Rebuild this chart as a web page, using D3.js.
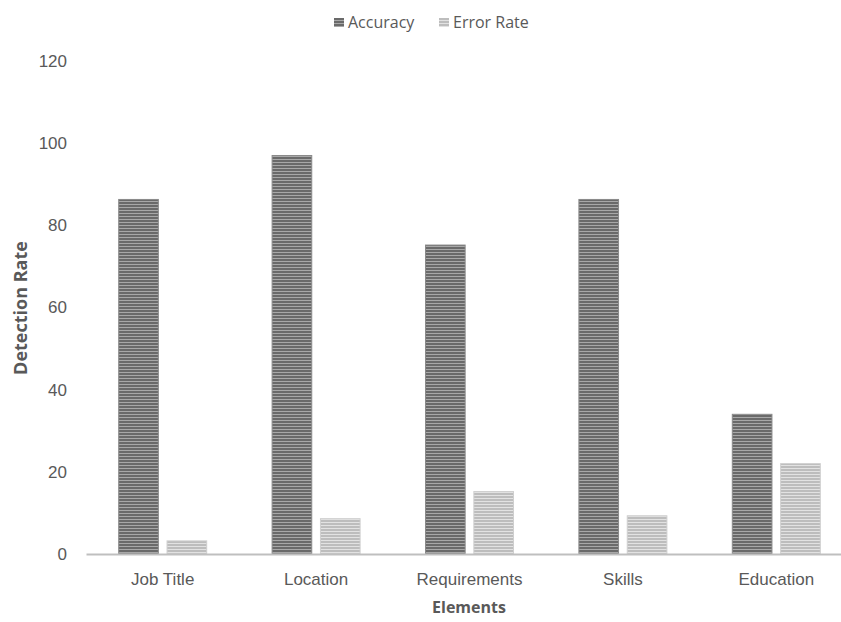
<!DOCTYPE html>
<html>
<head>
<meta charset="utf-8">
<script src="https://cdn.jsdelivr.net/npm/d3@7/dist/d3.min.js"></script>
<style>
  body { margin: 0; background: #fff; }
  svg { display: block; font-family: "Open Sans", "Noto Sans", sans-serif; }
</style>
</head>
<body>
<div id="chart"></div>
<script>
var categories = ["Job Title", "Location", "Requirements", "Skills", "Education"];
var seriesNames = ["Accuracy", "Error Rate"];
var accuracy = [86.3, 97, 75.2, 86.3, 34];
var errorRate = [3.2, 8.6, 15.2, 9.3, 22];
var yTicks = [0, 20, 40, 60, 80, 100, 120];

var W = 841, H = 622;
var margin = {top: 61, right: -12, bottom: 68, left: 86},
    width = W - margin.left - margin.right,
    height = H - margin.top - margin.bottom;

var svg = d3.select("#chart").append("svg")
    .attr("width", W)
    .attr("height", H);

// stripe patterns
var defs = svg.append("defs");
var fills = [{id: "p0", a: "#6a6a6a", b: "#a8a8a8"}, {id: "p1", a: "#bdbdbd", b: "#e2e2e2"}];
fills.forEach(function(f) {
    var p = defs.append("pattern")
        .attr("id", f.id)
        .attr("patternUnits", "userSpaceOnUse")
        .attr("width", 6).attr("height", 3);
    p.append("rect").attr("width", 6).attr("height", 3).attr("fill", f.b);
    p.append("rect").attr("width", 6).attr("height", 2).attr("fill", f.a);
});

var g = svg.append("g")
    .attr("transform", "translate(" + margin.left + "," + margin.top + ")");

var x0 = d3.scaleBand()
    .domain(categories)
    .range([0, width])
    .paddingInner(0)
    .paddingOuter(0);

var groupW = 88;
var x1 = d3.scaleBand()
    .domain(seriesNames)
    .range([(x0.bandwidth() - groupW) / 2, (x0.bandwidth() + groupW) / 2])
    .paddingInner(0.18);

var y = d3.scaleLinear()
    .domain([0, 120])
    .range([height, 0]);

var data = categories.map(function(c, i) {
    return {cat: c, values: [accuracy[i], errorRate[i]]};
});

var groups = g.selectAll(".grp")
    .data(data)
    .enter().append("g")
    .attr("class", "grp")
    .attr("transform", function(d) { return "translate(" + x0(d.cat) + ",0)"; });

groups.selectAll("rect")
    .data(function(d) { return d.values.map(function(v, j) { return {name: seriesNames[j], v: v, j: j}; }); })
    .enter().append("rect")
    .attr("x", function(d) { return x1(d.name); })
    .attr("y", function(d) { return y(d.v); })
    .attr("width", x1.bandwidth())
    .attr("height", function(d) { return y(0) - y(d.v); })
    .attr("fill", function(d) { return "url(#p" + d.j + ")"; })
    .attr("stroke", function(d) { return d.j === 0 ? "#8a8a8a" : "#cfcfcf"; })
    .attr("stroke-width", 1);

// axes
var yAxis = d3.axisLeft(y).tickValues(yTicks).tickSize(0).tickPadding(19);
var yG = g.append("g").call(yAxis);
yG.select(".domain").remove();
yG.selectAll("text").attr("fill", "#595959").style("font-size", "17px");

var xAxis = d3.axisBottom(x0).tickSize(0).tickPadding(19);
var xG = g.append("g")
    .attr("transform", "translate(0," + height + ")")
    .call(xAxis);
xG.select(".domain").attr("stroke", "#bfbfbf").attr("stroke-width", 2);
xG.selectAll("text").attr("fill", "#595959").style("font-size", "17px");

// titles
svg.append("text")
    .attr("transform", "translate(27,308) rotate(-90)")
    .attr("text-anchor", "middle")
    .attr("fill", "#595959")
    .style("font-size", "18px")
    .style("font-weight", "bold")
    .text("Detection Rate");

svg.append("text")
    .attr("x", 469)
    .attr("y", 613)
    .attr("text-anchor", "middle")
    .attr("fill", "#595959")
    .style("font-size", "16px")
    .style("font-weight", "bold")
    .text("Elements");

// legend
var legendX = [334, 439];
var legend = svg.selectAll(".legend")
    .data(seriesNames)
    .enter().append("g")
    .attr("class", "legend")
    .attr("transform", function(d, i) { return "translate(" + legendX[i] + ",18)"; });

legend.append("rect")
    .attr("width", 10).attr("height", 9)
    .attr("fill", function(d, i) { return "url(#p" + i + ")"; });

legend.append("text")
    .attr("x", 14)
    .attr("y", 4.5)
    .attr("dy", ".35em")
    .attr("fill", "#595959")
    .style("font-size", "16px")
    .text(function(d) { return d; });
</script>
</body>
</html>
